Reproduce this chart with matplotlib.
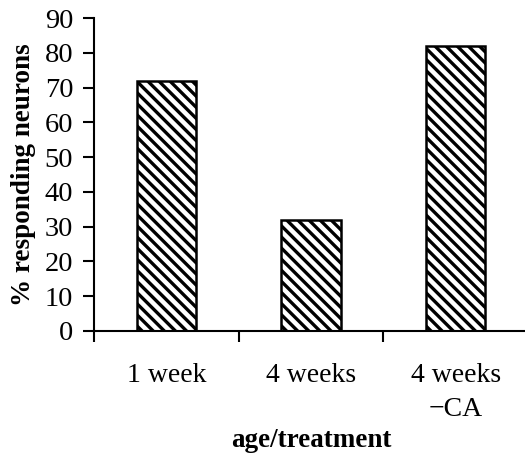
import matplotlib.pyplot as plt
import matplotlib as mpl

# chart data
categories = ['1 week', '4 weeks', '4 weeks\n\u2212CA']
values = [72, 32, 82]
yticks = [0, 10, 20, 30, 40, 50, 60, 70, 80, 90]

plt.rcParams['font.family'] = ['Liberation Serif', 'DejaVu Serif']
plt.rcParams['hatch.linewidth'] = 2.4
plt.rcParams['hatch.color'] = 'black'

fig = plt.figure(figsize=(5.25, 4.55), dpi=100)
ax = fig.add_axes([94 / 525, 124 / 455, 434 / 525, 313 / 455])

x = range(len(categories))
ax.bar(x, values, width=0.41, color='white', edgecolor='black',
       linewidth=1.8, hatch='\\\\\\')

ax.set_xlim(-0.5, 2.5)
ax.set_ylim(0, 90)
ax.set_yticks(yticks)
ax.set_yticklabels([str(t) for t in yticks])

# x ticks sit on the category boundaries, labels in the middle
ax.set_xticks([-0.5, 0.5, 1.5])
ax.set_xticklabels([])
ax.set_xticks(list(x), minor=True)
ax.set_xticklabels(categories, minor=True, fontsize=20, linespacing=1.5)
ax.tick_params(axis='x', which='minor', length=0, pad=23)
ax.tick_params(axis='x', which='major', length=8, width=1.5, direction='out')
ax.tick_params(axis='y', length=8, width=1.5, pad=7, labelsize=20.5)

for s in ['top', 'right']:
    ax.spines[s].set_visible(False)
for s in ['left', 'bottom']:
    ax.spines[s].set_linewidth(1.5)
ax.spines['bottom'].set_clip_on(False)

ax.set_ylabel('% responding neurons', fontsize=19.5, fontweight='bold', labelpad=6)
ax.set_xlabel('age/treatment', fontsize=19.5, fontweight='bold', labelpad=4)

fig.savefig('out.png', dpi=100)
